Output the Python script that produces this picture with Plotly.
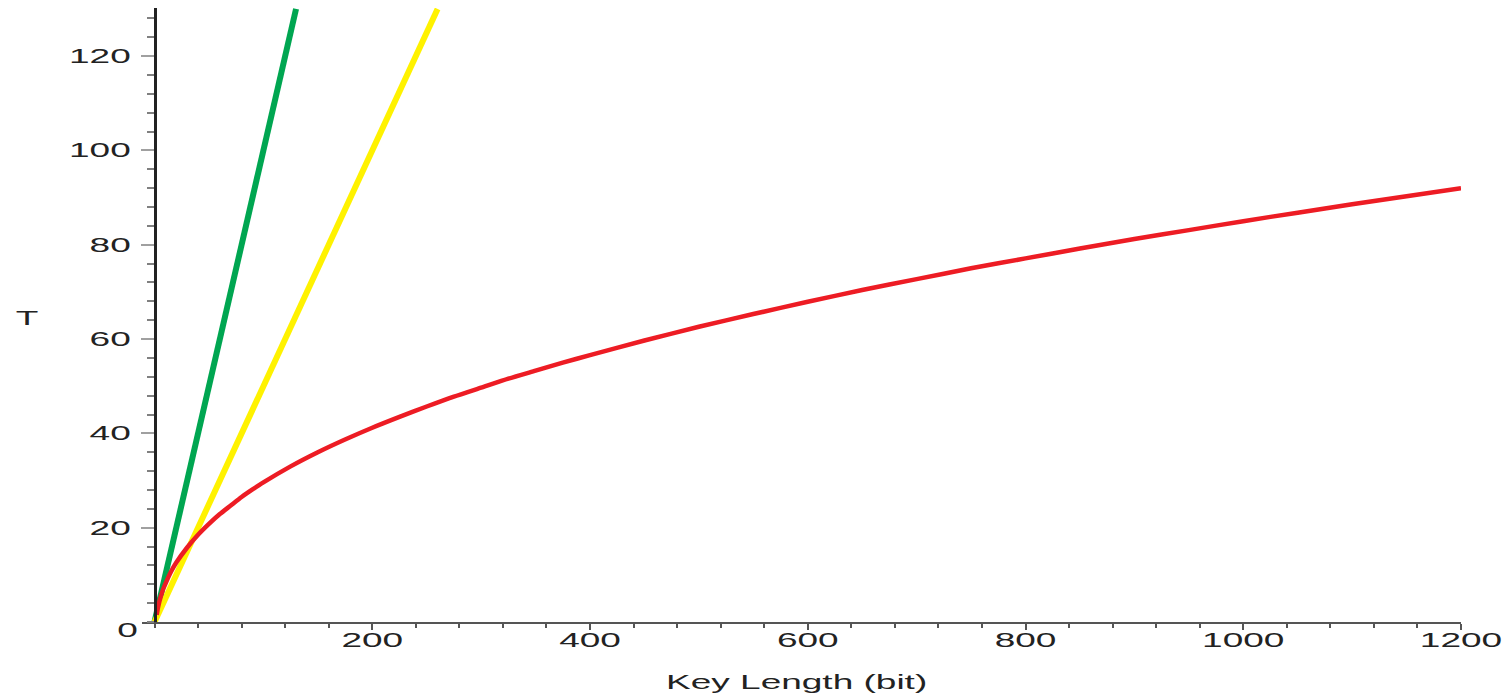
import plotly.graph_objects as go

# ---- data ----
green_x = [0, 130]
green_y = [0, 130]

yellow_x = [0, 260]
yellow_y = [0, 130]

red_x = [2, 3, 4, 5, 6, 8, 10, 15, 20, 30, 40, 50, 60, 70, 80, 90, 100, 125, 150,
         175, 200, 225, 250, 275, 300, 325, 350, 375, 400, 450, 500, 550, 600,
         650, 700, 750, 800, 850, 900, 950, 1000, 1050, 1100, 1150, 1200]
red_y = [1.5, 2.85, 3.9, 4.8, 5.6, 7.0, 8.1, 10.6, 12.6, 15.8, 18.5, 20.8, 22.9,
         24.7, 26.5, 28.1, 29.6, 33.0, 36.0, 38.7, 41.2, 43.5, 45.7, 47.8, 49.7,
         51.6, 53.3, 55.0, 56.6, 59.7, 62.6, 65.3, 67.9, 70.4, 72.7, 75.0, 77.1,
         79.2, 81.2, 83.1, 85.0, 86.8, 88.6, 90.3, 92.0]

x_tick_vals = [200, 400, 600, 800, 1000, 1200]
x_tick_text = ["200", "400", "600", "800", "1000", "1200"]
y_tick_vals = [20, 40, 60, 80, 100, 120]
y_tick_text = ["20", "40", "60", "80", "100", "120"]

x_title = "Key Length (bit)"
y_title = "T"

FONT = "Liberation Sans, Arial, Helvetica, sans-serif"
TXT = "#222222"

fig = go.Figure()
fig.add_trace(go.Scatter(x=green_x, y=green_y, mode="lines",
                         line=dict(color="#00a651", width=6), hoverinfo="skip"))
fig.add_trace(go.Scatter(x=yellow_x, y=yellow_y, mode="lines",
                         line=dict(color="#fff200", width=6), hoverinfo="skip"))
fig.add_trace(go.Scatter(x=red_x, y=red_y, mode="lines",
                         line=dict(color="#ed1c24", width=4.5, shape="spline",
                                   smoothing=0.6),
                         hoverinfo="skip"))

x_min = -11.5
x_max = 1200
fig.update_layout(
    width=1505, height=696,
    margin=dict(l=142, r=44, t=8, b=74),
    paper_bgcolor="white", plot_bgcolor="white",
    showlegend=False,
    font=dict(family=FONT, size=20, color=TXT),
    xaxis=dict(
        range=[x_min, x_max], showgrid=False, zeroline=False,
        showline=True, linecolor="#555555", linewidth=2,
        ticks="outside", ticklen=6, tickwidth=1.5, tickcolor="#555555",
        tickmode="array", tickvals=x_tick_vals, ticktext=x_tick_text,
        tickfont=dict(family=FONT, size=20, color=TXT),
        ticklabelstandoff=-7,
        minor=dict(dtick=40, tick0=0, ticks="outside", ticklen=4,
                   tickwidth=1.5, tickcolor="#555555", showgrid=False),
    ),
    yaxis=dict(
        range=[0, 130.2], showgrid=False, zeroline=False,
        anchor="free", position=(0 - x_min) / (x_max - x_min),
        showline=True, linecolor="#222222", linewidth=2.5,
        ticks="outside", ticklen=13, tickwidth=2, tickcolor="#a0a0a0",
        tickmode="array", tickvals=y_tick_vals, ticktext=y_tick_text,
        tickfont=dict(family=FONT, size=20, color=TXT),
        ticklabelstandoff=6,
        minor=dict(dtick=4, tick0=0, ticks="outside", ticklen=7,
                   tickwidth=1.5, tickcolor="#808080", showgrid=False),
    ),
    annotations=[
        dict(text=x_title, xref="paper", yref="paper", x=0.496, y=-0.0985,
             xanchor="center", yanchor="middle", showarrow=False,
             font=dict(family=FONT, size=20, color=TXT)),
        dict(text=y_title, xref="paper", yref="paper", x=-0.0869, y=0.4955,
             xanchor="center", yanchor="middle", showarrow=False,
             font=dict(family=FONT, size=20, color=TXT)),
        dict(text="0", xref="paper", yref="paper", x=-0.0111, y=-0.0138,
             xanchor="center", yanchor="middle", showarrow=False,
             font=dict(family=FONT, size=20, color=TXT)),
    ],
)

# Remove the page's default body margin, and widen the lettering the way the
# reference's horizontally stretched text looks.
post_js = """
document.body.style.margin = '0';
document.body.style.padding = '0';
var gd = document.getElementById('{plot_id}');
function stretchText(){
  var els = gd.querySelectorAll('.xtick text, .ytick text, .annotation-text');
  els.forEach(function(t){
    t.removeAttribute('textLength');
    t.removeAttribute('lengthAdjust');
    var w = t.getComputedTextLength();
    if (w > 0) {
      t.setAttribute('textLength', (w * 1.85).toFixed(1));
      t.setAttribute('lengthAdjust', 'spacingAndGlyphs');
    }
  });
}
stretchText();
gd.on('plotly_afterplot', stretchText);
"""

fig.write_html("out.html", post_script=post_js,
               config={"displayModeBar": False})
